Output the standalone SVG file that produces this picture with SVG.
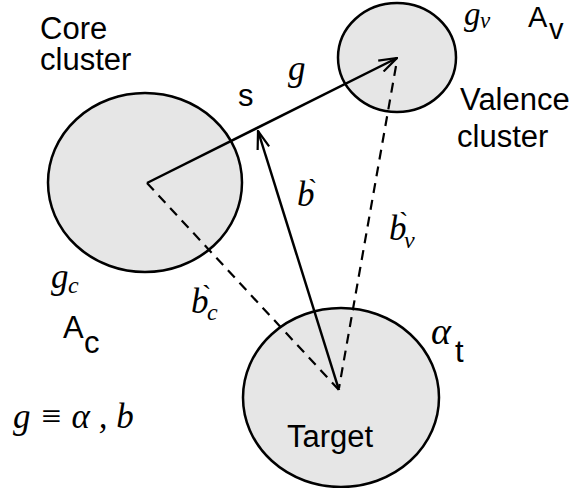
<svg xmlns="http://www.w3.org/2000/svg" width="579" height="488" viewBox="0 0 579 488">
<style>
.node{fill:#e6e6e6;stroke:#000;stroke-width:2.5}
.lbl{font-family:"Liberation Sans",Arial,sans-serif;font-size:31px;fill:#000}
.math{font-family:"Liberation Serif","Times New Roman",serif;font-style:italic;font-size:35px;fill:#000}
.acc{font-family:"Liberation Serif","Times New Roman",serif;font-size:28px;fill:#000}
.sub{font-family:"Liberation Serif","Times New Roman",serif;font-style:italic;font-size:24px;fill:#000}
.solid{stroke:#000;stroke-width:2.5;fill:none}
.dash{stroke:#000;stroke-width:2.2;fill:none;stroke-dasharray:10 7}
</style>
<defs>
<marker id="open" viewBox="0 0 20 14" refX="19" refY="7" markerWidth="20" markerHeight="14" markerUnits="userSpaceOnUse" orient="auto">
<path d="M1,1 L19,7 L1,13" fill="none" stroke="#000" stroke-width="2.2"/>
</marker>
</defs>
<rect width="579" height="488" fill="#fff"/>
<g id="core">
<ellipse class="node" cx="145" cy="182.5" rx="97" ry="89.5"/>
<text class="lbl" x="40" y="39">Core</text>
<text class="lbl" x="40" y="70">cluster</text>
<text class="math" x="51" y="288">g</text>
<text class="sub" x="68" y="293">c</text>
<text class="lbl" x="63" y="338">A</text>
<text class="lbl" x="84" y="353">c</text>
</g>
<g id="valence">
<ellipse class="node" cx="397" cy="57.5" rx="59" ry="54.5"/>
<text class="math" x="464" y="25" style="font-size:33px">g</text>
<text class="sub" x="480" y="28" style="font-size:23px">v</text>
<text class="lbl" x="528" y="27" style="font-size:29px">A</text>
<text class="lbl" x="549" y="39" style="font-size:29px">v</text>
<text class="lbl" x="460" y="110">Valence</text>
<text class="lbl" x="457" y="147">cluster</text>
</g>
<g id="target">
<ellipse class="node" cx="341" cy="397.5" rx="98" ry="89.5"/>
<text class="lbl" x="287" y="447">Target</text>
<text class="math" x="431" y="344" style="font-size:38px">α</text>
<text class="lbl" x="455" y="362">t</text>
</g>
<g id="connectors">
<line class="dash" x1="147" y1="183" x2="339" y2="390"/>
<line class="dash" x1="396" y1="66" x2="339" y2="388"/>
<line class="solid" x1="147" y1="183" x2="397" y2="58" marker-end="url(#open)"/>
<line class="solid" x1="339" y1="390" x2="258" y2="131" marker-end="url(#open)"/>
</g>
<g id="labels">
<text class="lbl" x="238" y="106">s</text>
<text class="math" x="288" y="80">g</text>
<text class="math" x="297" y="206">b</text>
<text class="acc" x="308" y="198">`</text>
<text class="math" x="389" y="240">b</text>
<text class="acc" x="399" y="231">`</text>
<text class="sub" x="404" y="248">v</text>
<text class="math" x="191" y="313">b</text>
<text class="acc" x="202" y="304">`</text>
<text class="sub" x="207" y="320">c</text>
<text class="math" x="13" y="428">g ≡ α , b</text>
</g>
</svg>
